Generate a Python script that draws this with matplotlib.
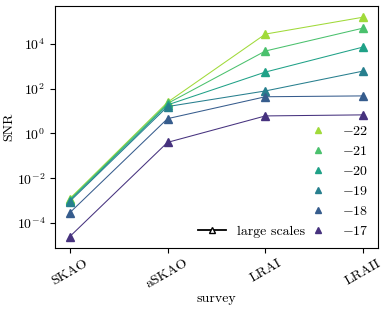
import numpy as np
import matplotlib
matplotlib.use("Agg")
import matplotlib.pyplot as plt
from matplotlib.lines import Line2D
from matplotlib.ticker import NullLocator

plt.rcParams['font.family'] = ['cmr10', 'DejaVu Serif']
plt.rcParams['mathtext.fontset'] = 'cm'
plt.rcParams['axes.formatter.use_mathtext'] = True
plt.rcParams['font.size'] = 10

# surveys on the x axis
surveys = ['SKAO', 'aSKAO', 'LRAI', 'LRAII']

# magnitude cut of each curve
mags = [-22, -21, -20, -19, -18, -17]

# SNR, one list per magnitude
snr_m22 = [1.2e-3, 25, 2.8e4, 1.6e5]
snr_m21 = [1.1e-3, 22, 4.9e3, 5.2e4]
snr_m20 = [1.0e-3, 19, 560, 7.4e3]
snr_m19 = [0.9e-3, 16, 80, 620]
snr_m18 = [2.8e-4, 4.6, 44, 48]
snr_m17 = [2.4e-5, 0.4, 6.1, 6.8]

snrs = [snr_m22, snr_m21, snr_m20, snr_m19, snr_m18, snr_m17]

cols = plt.cm.viridis(np.linspace(1/7, 6/7, 6))[::-1]

fig = plt.figure(figsize=(3.9, 3.1), dpi=100)
ax = fig.add_axes([0.141, 0.201, 0.828, 0.779])

x = np.arange(len(surveys))
handles = []
for m, s, c in zip(mags, snrs, cols):
    ax.plot(x, s, '-', color=c, lw=0.75)
    ax.plot(x, s, '^', color=c, ms=5.5)
    handles.append(Line2D([], [], ls='none', marker='^', color=c, ms=5,
                          label='$%d$' % m))

ax.set_yscale('log')
ax.set_yticks([1e-4, 1e-2, 1, 1e2, 1e4])
ax.yaxis.set_minor_locator(NullLocator())
ax.set_xticks(x)
ax.set_xticklabels(surveys, rotation=30)
ax.set_xlabel('survey', labelpad=1)
ax.set_ylabel('SNR', labelpad=1)

leg1 = ax.legend(handles=handles, loc='lower right', frameon=False,
                 handlelength=1.0, handletextpad=1.2, borderaxespad=0.3,
                 labelspacing=0.5)
ax.add_artist(leg1)

ls = Line2D([], [], color='k', lw=1.3, marker='^', mfc='white', mec='k', ms=5)
ax.legend([ls], ['large scales'], loc='lower right', frameon=False,
          bbox_to_anchor=(0.805, 0.0), handlelength=2.0, borderaxespad=0.3)

fig.savefig('out.png', dpi=100)
